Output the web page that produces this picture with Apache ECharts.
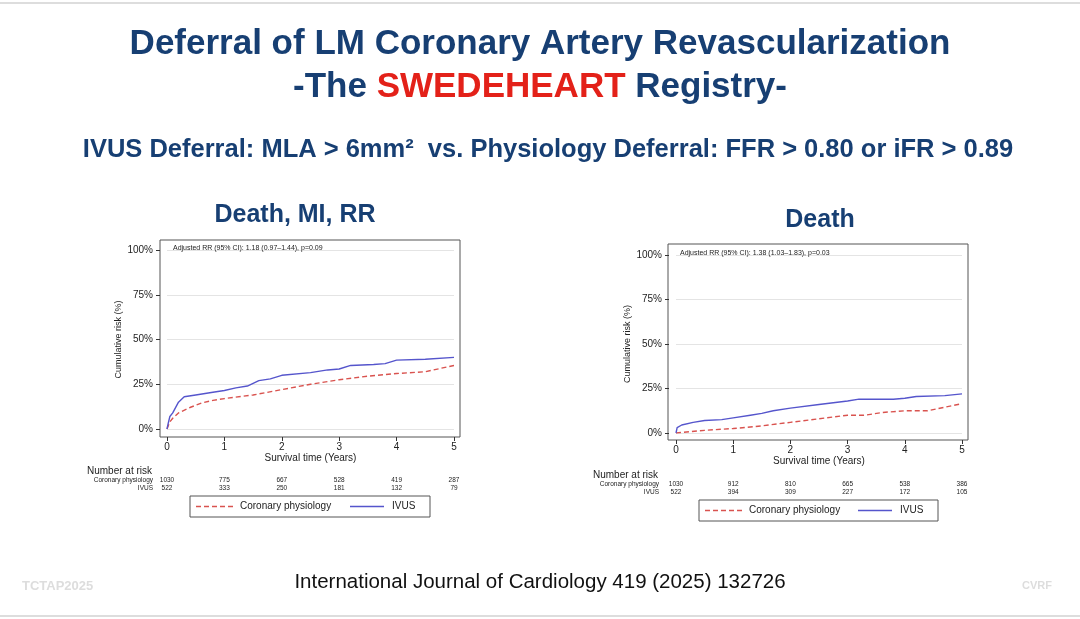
<!DOCTYPE html>
<html><head><meta charset="utf-8">
<script src="https://cdn.jsdelivr.net/npm/echarts@6/dist/echarts.min.js"></script>
<style>html,body{margin:0;background:#fff}#main{width:1080px;height:619px}</style>
</head><body><div id="main"></div>
<script>
// left panel: Death, MI, RR
var leftIvus = [[0,0],[0.02,3],[0.05,7],[0.1,9],[0.2,15],[0.3,18],[0.5,19],[0.8,20.5],[1,21.5],[1.2,23],[1.4,24],[1.6,27],[1.8,28],[2,30],[2.5,31.5],[2.8,33],[3,33.5],[3.2,35.5],[3.6,36],[3.8,36.5],[4,38.5],[4.5,39],[5,40]];
var leftPhys = [[0,0],[0.05,4],[0.1,6],[0.2,9],[0.4,12],[0.6,14.5],[0.8,16],[1,17],[1.5,19],[2,22],[2.5,25],[3,27.5],[3.5,29.5],[4,31],[4.5,32],[5,35.5]];
// right panel: Death
var rightIvus = [[0,0],[0.02,3],[0.1,4.5],[0.3,6],[0.5,7],[0.8,7.5],[1,8.5],[1.3,10],[1.5,11],[1.7,12.5],[2,14],[2.5,16],[3,18],[3.2,19],[3.8,19],[4,19.5],[4.2,20.5],[4.7,21],[5,22]];
var rightPhys = [[0,0],[0.5,1.5],[1,2.5],[1.5,4],[2,6],[2.5,8],[3,10],[3.3,10],[3.6,11.5],[4,12.5],[4.4,12.5],[4.7,14.5],[5,16.5]];
var riskYears = [0,1,2,3,4,5];
var leftRiskPhys = [1030,775,667,528,419,287];
var leftRiskIvus = [522,333,250,181,132,79];
var rightRiskPhys = [1030,912,810,665,538,386];
var rightRiskIvus = [522,394,309,227,172,105];

var chart = echarts.init(document.getElementById('main'));
var F = 'Liberation Sans';
var navy = '#173f73';

function xAx(i, off) {
  return {type:'value', gridIndex:i, min:0, max:5, interval:1, position:'bottom', offset:off,
    name:'Survival time (Years)', nameLocation:'middle', nameGap:12,
    nameTextStyle:{fontFamily:F, fontSize:10, color:'#222'},
    axisLine:{show:true, onZero:false, lineStyle:{color:'rgba(0,0,0,0)'}}, axisTick:{length:4, lineStyle:{color:'#333'}},
    axisLabel:{fontFamily:F, fontSize:10, color:'#222', margin:5}, splitLine:{show:false}};
}
function yAx(i) {
  return {type:'value', gridIndex:i, min:0, max:100, interval:25, position:'left', offset:7,
    name:'Cumulative risk (%)', nameLocation:'middle', nameGap:37, nameRotate:90,
    nameTextStyle:{fontFamily:F, fontSize:9, color:'#222'},
    axisLine:{show:true, onZero:false, lineStyle:{color:'rgba(0,0,0,0)'}}, axisTick:{length:4, lineStyle:{color:'#333'}},
    axisLabel:{fontFamily:F, fontSize:10, color:'#222', formatter:'{value}%', margin:7},
    splitLine:{lineStyle:{color:'#e4e4e4'}}};
}
function line(i, data, dashed) {
  return {type:'line', xAxisIndex:i, yAxisIndex:i, data:data, symbol:'none',
    lineStyle: dashed ? {color:'#d9534f', width:1.4, type:[5,3]} : {color:'#5555cc', width:1.4},
    name: dashed ? 'Coronary physiology' : 'IVUS'};
}

chart.setOption({
  animation:false,
  grid:[
    {left:167, top:250, width:287, height:179},
    {left:676, top:255, width:286, height:178}
  ],
  xAxis:[xAx(0, 8), xAx(1, 7)],
  yAxis:[yAx(0), yAx(1)],
  series:[line(0,leftPhys,true), line(0,leftIvus,false), line(1,rightPhys,true), line(1,rightIvus,false)]
});

var g = [
  {type:'line', shape:{x1:0,y1:3,x2:1080,y2:3}, style:{stroke:'#ddd', lineWidth:2}},
  {type:'line', shape:{x1:0,y1:616,x2:1080,y2:616}, style:{stroke:'#ddd', lineWidth:2}},
  {type:'rect', shape:{x:160, y:240, width:300, height:197}, style:{fill:'none', stroke:'#555', lineWidth:1}},
  {type:'rect', shape:{x:668, y:244, width:300, height:196}, style:{fill:'none', stroke:'#555', lineWidth:1}},
  {type:'text', x:540, y:27, style:{text:'Deferral of LM Coronary Artery Revascularization', font:'bold 35px '+F, fill:navy, textAlign:'center'}},
  {type:'text', x:540, y:70, style:{text:'{a|-The }{b|SWEDEHEART}{a| Registry-}', textAlign:'center',
    rich:{a:{font:'bold 35px '+F, fill:navy}, b:{font:'bold 35px '+F, fill:'#e32119'}}}},
  {type:'text', x:548, y:137, style:{text:'IVUS Deferral: MLA > 6mm\u00b2  vs. Physiology Deferral: FFR > 0.80 or iFR > 0.89', font:'bold 25.5px '+F, fill:navy, textAlign:'center'}},
  {type:'text', x:295, y:203, style:{text:'Death, MI, RR', font:'bold 25px '+F, fill:navy, textAlign:'center'}},
  {type:'text', x:820, y:208, style:{text:'Death', font:'bold 25px '+F, fill:navy, textAlign:'center'}},
  {type:'text', x:173, y:245, style:{text:'Adjusted RR (95% CI): 1.18 (0.97\u20131.44), p=0.09', font:'7px '+F, fill:'#222'}},
  {type:'text', x:680, y:250, style:{text:'Adjusted RR (95% CI): 1.38 (1.03\u20131.83), p=0.03', font:'7px '+F, fill:'#222'}},
  {type:'text', x:540, y:572, style:{text:'International Journal of Cardiology 419 (2025) 132726', font:'20.5px '+F, fill:'#111', textAlign:'center'}},
  {type:'text', x:22, y:580, style:{text:'TCTAP2025', font:'bold 13px '+F, fill:'#ddd'}},
  {type:'text', x:1022, y:580, style:{text:'CVRF', font:'bold 11px '+F, fill:'#ddd'}}
];

function risk(i, phys, ivus, yRow, lx, bx0, bx1) {
  g.push({type:'text', x:lx, y:yRow, style:{text:'Number at risk', font:'10px '+F, fill:'#222', textAlign:'right'}});
  g.push({type:'text', x:lx+1, y:yRow+11, style:{text:'Coronary physiology', font:'6.5px '+F, fill:'#222', textAlign:'right'}});
  g.push({type:'text', x:lx+1, y:yRow+19, style:{text:'IVUS', font:'6.5px '+F, fill:'#222', textAlign:'right'}});
  riskYears.forEach(function (yr, k) {
    var px = chart.convertToPixel({xAxisIndex:i}, yr);
    g.push({type:'text', x:px, y:yRow+11, style:{text:String(phys[k]), font:'6.5px '+F, fill:'#222', textAlign:'center'}});
    g.push({type:'text', x:px, y:yRow+19, style:{text:String(ivus[k]), font:'6.5px '+F, fill:'#222', textAlign:'center'}});
  });
  var ly = yRow + 30;
  g.push({type:'rect', shape:{x:bx0, y:ly, width:bx1-bx0, height:21}, style:{fill:'#fff', stroke:'#555', lineWidth:1}});
  g.push({type:'line', shape:{x1:bx0+6, y1:ly+10.5, x2:bx0+43, y2:ly+10.5}, style:{stroke:'#d9534f', lineWidth:1.4, lineDash:[5,3]}});
  g.push({type:'text', x:bx0+50, y:ly+5, style:{text:'Coronary physiology', font:'10px '+F, fill:'#222'}});
  g.push({type:'line', shape:{x1:bx1-80, y1:ly+10.5, x2:bx1-46, y2:ly+10.5}, style:{stroke:'#5555cc', lineWidth:1.4}});
  g.push({type:'text', x:bx1-38, y:ly+5, style:{text:'IVUS', font:'10px '+F, fill:'#222'}});
}
risk(0, leftRiskPhys, leftRiskIvus, 466, 152, 190, 430);
risk(1, rightRiskPhys, rightRiskIvus, 470, 658, 699, 938);
chart.setOption({graphic:g});
</script>
</body></html>
